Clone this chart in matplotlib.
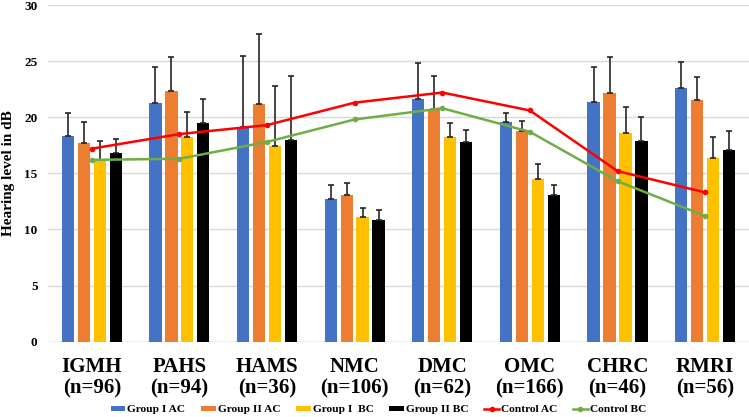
import numpy as np
import matplotlib
matplotlib.use("Agg")
import matplotlib.pyplot as plt

# data
sites = ["IGMH", "PAHS", "HAMS", "NMC", "DMC", "OMC", "CHRC", "RMRI"]
n_counts = [96, 94, 36, 106, 62, 166, 46, 56]

g1_ac = [18.3, 21.3, 19.1, 12.7, 21.6, 19.6, 21.4, 22.6]
g1_ac_sd = [2.1, 3.2, 6.4, 1.3, 3.2, 0.8, 3.1, 2.3]
g2_ac = [17.7, 22.3, 21.2, 13.1, 20.7, 18.8, 22.2, 21.5]
g2_ac_sd = [1.9, 3.1, 6.2, 1.0, 3.0, 0.9, 3.2, 2.1]
g1_bc = [16.2, 18.2, 17.4, 11.1, 18.2, 14.5, 18.6, 16.4]
g1_bc_sd = [1.7, 2.3, 5.4, 0.8, 1.3, 1.3, 2.3, 1.8]
g2_bc = [16.8, 19.5, 18.0, 10.8, 17.8, 13.1, 17.9, 17.1]
g2_bc_sd = [1.3, 2.1, 5.7, 0.9, 1.1, 0.9, 2.1, 1.7]

ctrl_ac = [17.2, 18.5, 19.3, 21.3, 22.2, 20.6, 15.2, 13.3]
ctrl_bc = [16.2, 16.3, 17.8, 19.8, 20.8, 18.7, 14.3, 11.2]

plt.rcParams['font.family'] = ['Liberation Serif', 'DejaVu Serif']
plt.rcParams['font.weight'] = 'bold'

fig = plt.figure(figsize=(7.49, 4.17), dpi=100)
ax = fig.add_axes([0.064, 0.1806, 0.936, 0.8074])

x = np.arange(len(sites))
w = 0.14
step = 0.182
bars = [
    (g1_ac, g1_ac_sd, "#4472C4", "Group I AC"),
    (g2_ac, g2_ac_sd, "#ED7D31", "Group II AC"),
    (g1_bc, g1_bc_sd, "#FFC000", "Group I  BC"),
    (g2_bc, g2_bc_sd, "#000000", "Group II BC"),
]
handles = []
for i, (vals, sd, col, lab) in enumerate(bars):
    pos = x + (i - 1.5) * step
    b = ax.bar(pos, vals, width=w, color=col, label=lab, zorder=2)
    handles.append(b)
    ax.errorbar(pos, vals, yerr=[np.zeros(len(sd)), sd], fmt='none',
                ecolor='#262626', elinewidth=1.2, capsize=2, capthick=1.2, zorder=3)

l1, = ax.plot(x, ctrl_ac, color="#FF0000", lw=1.8, marker='o', ms=3, label="Control AC", zorder=4)
l2, = ax.plot(x, ctrl_bc, color="#70AD47", lw=1.8, marker='o', ms=3, label="Control BC", zorder=4)
handles += [l1, l2]

ax.set_xlim(-0.5, 7.5)
ax.set_ylim(0, 30)
ax.set_yticks(range(0, 31, 5))
ax.yaxis.grid(True, color='#d9d9d9', lw=1)
ax.set_axisbelow(True)
for s in ax.spines.values():
    s.set_visible(False)
ax.axhline(0, color='#d9d9d9', lw=1, zorder=1)
ax.tick_params(axis='both', length=0)
ax.tick_params(axis='y', pad=7.5, labelsize=9.5)
ax.set_xticks(x)
ax.set_xticklabels([f"{s}\n(n={n})" for s, n in zip(sites, n_counts)],
                   fontsize=15, fontweight='bold', linespacing=1.08)
ax.tick_params(axis='x', pad=11)
for t in ax.get_yticklabels():
    t.set_fontweight('bold')

fig.text(0.011, 0.585, "Hearing level in dB", rotation=90, ha='center', va='center',
         fontsize=11, fontweight='bold')

fig.legend(handles=handles, loc='center', bbox_to_anchor=(0.505, 0.017), ncol=6,
           frameon=False, handlelength=1.3, handleheight=0.35, columnspacing=1.4,
           handletextpad=0.15, prop={'weight': 'bold', 'size': 8.2})

fig.savefig("out.png", dpi=100)
